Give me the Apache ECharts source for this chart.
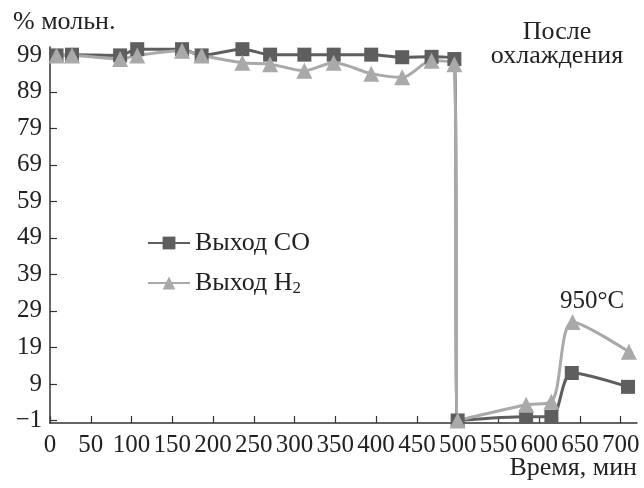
<!DOCTYPE html>
<html><head><meta charset="utf-8">
<script src="https://cdn.jsdelivr.net/npm/echarts@6/dist/echarts.min.js"></script>
<style>html,body{margin:0;padding:0;background:#fff}#c{width:644px;height:488px}</style>
</head><body><div id="c"></div>
<script>
var timeCO = [8, 27, 86, 107, 162, 186, 236, 270, 312, 348, 394, 432, 468, 496, 500, 584, 615, 640, 709];
var yieldCO = [99, 99.2, 99, 100.7, 100.7, 99, 100.7, 99.2, 99.2, 99.2, 99.2, 98.5, 98.6, 98, -1, 0, 0, 12, 8.2];
var timeH2 = [8, 27, 86, 107, 162, 186, 236, 270, 312, 348, 394, 432, 468, 496, 500, 584, 615, 641, 710];
var yieldH2 = [99, 99, 98, 99, 100.3, 99, 97, 96.6, 94.8, 97, 94, 93, 97.5, 96.6, -1, 3.3, 4.1, 26, 17.8];
var yTicks = [-1, 9, 19, 29, 39, 49, 59, 69, 79, 89, 99];
var xTicks = [0, 50, 100, 150, 200, 250, 300, 350, 400, 450, 500, 550, 600, 650, 700];

function pairs(xs, ys){ return xs.map(function(x,i){ return [x, ys[i]]; }); }
var FONT = 'Liberation Serif';
var chart = echarts.init(document.getElementById('c'));
chart.setOption({
  animation: false,
  backgroundColor: '#fff',
  grid: {left: 50, right: 7, top: 47, bottom: 65, containLabel: false},
  xAxis: {
    type: 'value', min: 0, max: 720,
    axisLine: {show: true, onZero: false, lineStyle: {color: '#333', width: 1.5}},
    axisTick: {show: true, inside: true, length: 7, customValues: xTicks, lineStyle: {color: '#333', width: 1.2}},
    axisLabel: {customValues: xTicks, color: '#222', fontFamily: FONT, fontSize: 25, margin: 10},
    splitLine: {show: false}
  },
  yAxis: {
    type: 'value', min: -1.7, max: 101.3,
    axisLine: {show: true, onZero: false, lineStyle: {color: '#333', width: 1.5}},
    axisTick: {show: true, inside: true, length: 7, customValues: yTicks, lineStyle: {color: '#333', width: 1.2}},
    axisLabel: {customValues: yTicks, color: '#222', fontFamily: FONT, fontSize: 25, margin: 8,
      formatter: function(v){ return v < 0 ? '\u2212' + Math.abs(v) : String(v); }},
    splitLine: {show: false}
  },
  legend: {
    orient: 'vertical', left: 142, top: 225, itemGap: 14, itemWidth: 42, itemHeight: 16,
    textStyle: {fontFamily: FONT, fontSize: 26, color: '#222',
      rich: {sub: {fontFamily: FONT, fontSize: 17, verticalAlign: 'bottom', padding: [12, 0, 0, 0]}}},
    formatter: function(n){ return n === 'Выход H2' ? 'Выход H{sub|2}' : n; },
    data: ['Выход CO', 'Выход H2']
  },
  series: [
    {name: 'Выход CO', type: 'line', smooth: 0.3, data: pairs(timeCO, yieldCO),
     symbol: 'rect', symbolSize: 14, color: '#5e5e5e',
     lineStyle: {color: '#5e5e5e', width: 3}, itemStyle: {color: '#5e5e5e'}},
    {name: 'Выход H2', type: 'line', smooth: 0.3, data: pairs(timeH2, yieldH2),
     symbol: 'triangle', symbolSize: 16, color: '#a9a9a9',
     lineStyle: {color: '#a9a9a9', width: 3}, itemStyle: {color: '#a9a9a9'}}
  ],
  graphic: [
    {type: 'text', x: 13, y: 22, style: {text: '% мольн.', fontFamily: FONT, fontSize: 26, fill: '#222', verticalAlign: 'middle'}},
    {type: 'text', x: 557, y: 32, style: {text: 'После', fontFamily: FONT, fontSize: 26, fill: '#222', align: 'center', verticalAlign: 'middle'}},
    {type: 'text', x: 557, y: 56, style: {text: 'охлаждения', fontFamily: FONT, fontSize: 26, fill: '#222', align: 'center', verticalAlign: 'middle'}},
    {type: 'text', x: 592, y: 301, style: {text: '950°C', fontFamily: FONT, fontSize: 25, fill: '#222', align: 'center', verticalAlign: 'middle'}},
    {type: 'text', x: 637, y: 468, style: {text: 'Время, мин', fontFamily: FONT, fontSize: 26, fill: '#222', align: 'right', verticalAlign: 'middle'}}
  ]
});
</script></body></html>
